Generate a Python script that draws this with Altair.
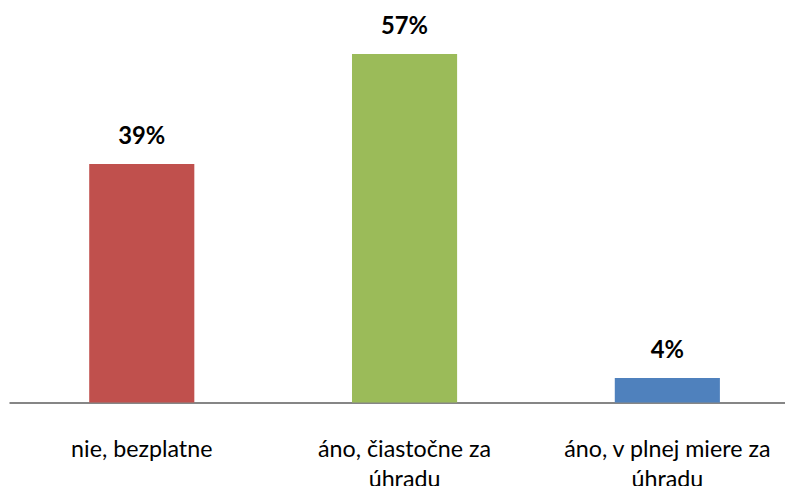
import altair as alt
import pandas as pd

categories = ["nie, bezplatne", "áno, čiastočne za|úhradu", "áno, v plnej miere za|úhradu"]
values = [39, 57, 4]
colors = ["#C0504D", "#9BBB59", "#4F81BD"]

df = pd.DataFrame({"cat": categories, "val": values, "col": colors})
df["lbl"] = [f"{v}%" for v in values]

FONT = "Lato"

x = alt.X(
    "cat:N",
    sort=None,
    title=None,
    scale=alt.Scale(paddingInner=0.6, paddingOuter=0.2765, align=0.552),
    axis=alt.Axis(
        labelExpr="split(datum.label, '|')",
        labelAngle=0,
        labelFont=FONT,
        labelFontSize=23.5,
        labelColor="#000000",
        labelBaseline="alphabetic",
        labelPadding=55,
        labelLineHeight=30,
        labelLimit=400,
        ticks=False,
        tickSize=0,
        grid=False,
        domainColor="#868686",
        domainWidth=2,
    ),
)
y = alt.Y("val:Q", title=None, axis=None, scale=alt.Scale(domain=[0, 64.13], nice=False))

base = alt.Chart(df).encode(x=x, y=y)
bars = base.mark_bar().encode(color=alt.Color("col:N", scale=None, legend=None))
text = base.mark_text(dy=-20, baseline="alphabetic", font=FONT, fontSize=24, fontWeight="bold", color="#000000").encode(text="lbl:N")

chart = (bars + text).properties(
    width=784,
    height=396,
    background="#ffffff",
    padding={"left": 1, "top": 0, "right": 0, "bottom": 82},
    autosize=alt.AutoSizeParams(type="none"),
).configure_view(stroke=None)

chart.save("out.html", embed_options={"renderer": "svg", "actions": False})
